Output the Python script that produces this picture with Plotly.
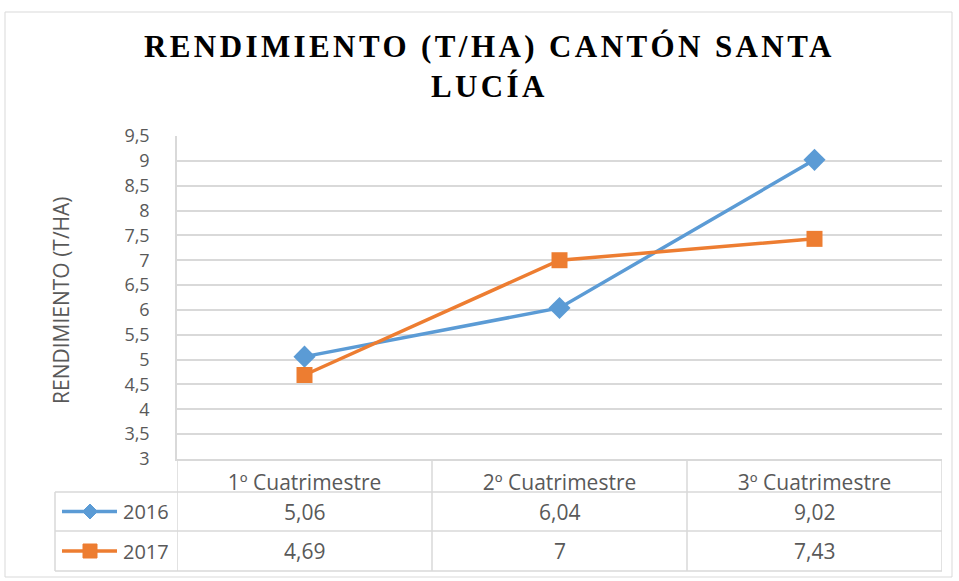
import plotly.graph_objects as go

categories = ["1º Cuatrimestre", "2º Cuatrimestre", "3º Cuatrimestre"]
series_names = ["2016", "2017"]
values_2016 = [5.06, 6.04, 9.02]
values_2017 = [4.69, 7, 7.43]
title_line1 = "RENDIMIENTO (T/HA) CANTÓN SANTA"
title_line2 = "LUCÍA"
y_title = "RENDIMIENTO (T/HA)"

W, H = 959, 581
L, R, T, B = 177, 17, 136, 122
PW, PH = W - L - R, H - T - B

def px(xp):
    return (xp - L) / PW

def py(yp):
    return (H - B - yp) / PH

colors = ["#5B9BD5", "#ED7D31"]
symbols = ["diamond", "square"]
series_vals = [values_2016, values_2017]
grid = "#D9D9D9"
txt = "#595959"
FONT = "Open Sans"

fig = go.Figure()
for name, vals, c, s, ms in zip(series_names, series_vals, colors, symbols, [17, 16]):
    fig.add_trace(go.Scatter(x=categories, y=vals, name=name, mode="lines+markers",
                             line=dict(color=c, width=3.5),
                             marker=dict(symbol=s, size=ms, color=c),
                             showlegend=False))

shapes = []
shapes.append(dict(type="rect", xref="paper", yref="paper", x0=px(5), x1=px(952), y0=py(12), y1=py(577),
                   line=dict(color=grid, width=1), fillcolor="rgba(0,0,0,0)", layer="below"))
row_tops = [459, 492, 531, 571]
for yy in row_tops[1:]:
    shapes.append(dict(type="line", xref="paper", yref="paper", x0=px(55), x1=1, y0=py(yy), y1=py(yy),
                       line=dict(color=grid, width=1.5)))
n = len(categories)
for k in range(n + 1):
    shapes.append(dict(type="line", xref="x", yref="paper", x0=k - 0.5, x1=k - 0.5, y0=py(459), y1=py(571),
                       line=dict(color=grid, width=1.5)))
shapes.append(dict(type="line", xref="paper", yref="paper", x0=px(55), x1=px(55), y0=py(492), y1=py(571),
                   line=dict(color=grid, width=1.5)))

annotations = []
sp = "letter-spacing:3.4px"
title_html = (f"<b><span style='{sp}'>{title_line1}</span><br>"
              f"<span style='{sp}'>{title_line2}</span></b>")
annotations.append(dict(text=title_html, xref="paper", yref="paper",
                        x=px(489), y=py(67), xanchor="center", yanchor="middle", showarrow=False,
                        font=dict(family="Liberation Serif", size=31, color="#000000")))
annotations.append(dict(text=y_title, xref="paper", yref="paper", x=px(61), y=py(300),
                        xanchor="center", yanchor="middle", textangle=-90, showarrow=False,
                        font=dict(family=FONT, size=21, color=txt)))

def fmt(v):
    return f"{v:g}".replace(".", ",")

for i, (name, vals, c, s) in enumerate(zip(series_names, series_vals, colors, symbols)):
    yc = (row_tops[i + 1] + row_tops[i + 2]) / 2
    shapes.append(dict(type="line", xref="paper", yref="paper", x0=px(62), x1=px(117), y0=py(yc), y1=py(yc),
                       line=dict(color=c, width=3.5)))
    cx = 90
    if s == "diamond":
        d = 7.5
        path = (f"M {px(cx - d)} {py(yc)} L {px(cx)} {py(yc - d)} L {px(cx + d)} {py(yc)} "
                f"L {px(cx)} {py(yc + d)} Z")
    else:
        d = 7
        path = (f"M {px(cx - d)} {py(yc - d)} L {px(cx + d)} {py(yc - d)} L {px(cx + d)} {py(yc + d)} "
                f"L {px(cx - d)} {py(yc + d)} Z")
    shapes.append(dict(type="path", xref="paper", yref="paper", path=path, fillcolor=c, line=dict(color=c, width=1)))
    annotations.append(dict(text=name, xref="paper", yref="paper", x=px(121), y=py(yc),
                            xanchor="left", yanchor="middle", showarrow=False,
                            font=dict(family=FONT, size=20, color=txt)))
    for cat, v in zip(categories, vals):
        annotations.append(dict(text=fmt(v), xref="x", yref="paper", x=cat, y=py(yc),
                                xanchor="center", yanchor="middle", showarrow=False,
                                font=dict(family=FONT, size=21, color=txt)))

fig.update_layout(
    width=W, height=H,
    margin=dict(l=L, r=R, t=T, b=B),
    plot_bgcolor="white", paper_bgcolor="white",
    separators=",.",
    shapes=shapes, annotations=annotations,
    xaxis=dict(type="category", range=[-0.5, n - 0.5], showgrid=False, showline=True,
               linecolor=grid, linewidth=1.5, ticks="", ticklabelstandoff=4,
               tickfont=dict(family=FONT, size=21, color=txt)),
    yaxis=dict(range=[3, 9.5], dtick=0.5, tick0=3, showgrid=True, gridcolor=grid, gridwidth=1.5,
               zeroline=False, showline=True, linecolor=grid, linewidth=1.5, ticks="",
               ticklabelstandoff=22, tickfont=dict(family=FONT, size=18, color=txt)),
)
fig.write_html("out.html", config={"displayModeBar": False},
               post_script="document.body.style.margin='0';document.body.style.padding='0';")
